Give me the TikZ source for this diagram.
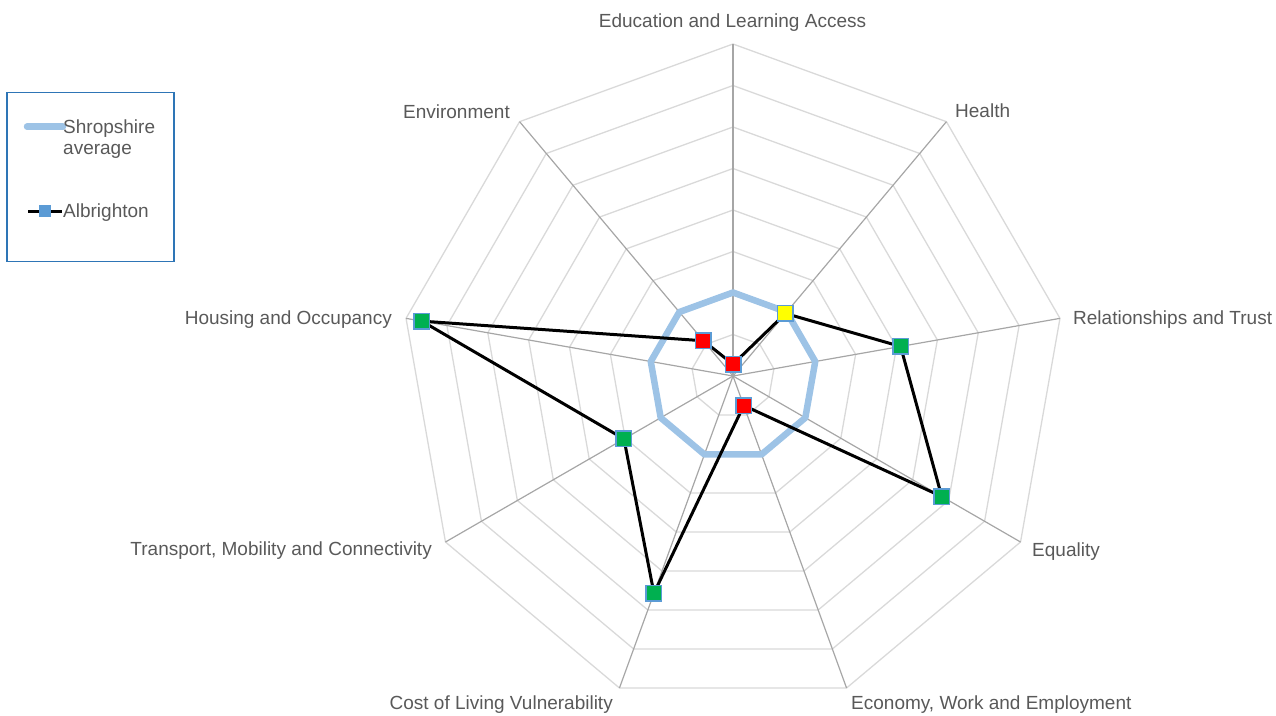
\documentclass[tikz,border=0pt]{standalone}
\usepackage{fontspec}
\setmainfont{Liberation Sans}
\definecolor{gridc}{HTML}{D9D9D9}
\definecolor{spokec}{HTML}{A6A6A6}
\definecolor{avgc}{HTML}{9DC3E6}
\definecolor{txtc}{HTML}{595959}
\definecolor{mkborder}{HTML}{5B9BD5}
\definecolor{mkgreen}{HTML}{00B050}
\definecolor{mkred}{HTML}{FF0000}
\definecolor{mkyellow}{HTML}{FFFF00}
\definecolor{legbox}{HTML}{2E75B6}
\definecolor{legmk}{HTML}{5B9BD5}
\begin{document}
\begin{tikzpicture}[x=1pt,y=1pt,
  lbl/.style={font=\fontsize{19}{22}\selectfont, text=txtc, inner sep=0pt, text height=13.6pt, text depth=0pt},
  ring/.style={draw=gridc, line width=1.3pt, line join=miter},
  spoke/.style={draw=spokec, line width=1.2pt},
  avg/.style={draw=avgc, line width=6.5pt, line join=round, line cap=round},
  albline/.style={draw=black, line width=3pt, line join=round},
  mk/.style={draw=mkborder, line width=1.5pt, minimum size=15.5pt, inner sep=0pt, rectangle},
  legframe/.style={draw=legbox, line width=1.6pt}]
\useasboundingbox (0,0) rectangle (1276,-715);
\begin{scope}[shift={(733,-376)}]
  \coordinate (c) at (0,0);
  % rings
  \foreach \k in {1,...,8} {
    \pgfmathsetmacro\rr{41.5*\k}
    \draw[ring] (90:\rr) -- (50:\rr) -- (10:\rr) -- (-30:\rr) -- (-70:\rr) -- (-110:\rr) -- (-150:\rr) -- (170:\rr) -- (130:\rr) -- cycle;
  }
  % spokes
  \foreach \a/\n in {90/1,50/2,10/3,-30/4,-70/5,-110/6,-150/7,170/8,130/9} {
    \coordinate (v\n) at (\a:332);
    \draw[spoke] (c) -- (v\n);
  }
  % Shropshire average
  \foreach \a/\n in {90/1,50/2,10/3,-30/4,-70/5,-110/6,-150/7,170/8,130/9} {
    \coordinate (s\n) at (\a:83.5);
  }
  \draw[avg] (s1) -- (s2) -- (s3) -- (s4) -- (s5) -- (s6) -- (s7) -- (s8) -- (s9) -- cycle;
  % Albrighton
  \coordinate (p1) at (90:11.7);
  \coordinate (p2) at (50:81.6);
  \coordinate (p3) at (10:170.2);
  \coordinate (p4) at (-30:241);
  \coordinate (p5) at (-70:31.4);
  \coordinate (p6) at (-110:231.2);
  \coordinate (p7) at (-150:125.9);
  \coordinate (p8) at (170:316);
  \coordinate (p9) at (130:46);
  \draw[albline] (p1) -- (p2) -- (p3) -- (p4) -- (p5) -- (p6) -- (p7) -- (p8) -- (p9) -- cycle;
  \node[mk, fill=mkred] (m1) at (p1) {};
  \node[mk, fill=mkyellow] (m2) at (p2) {};
  \node[mk, fill=mkgreen] (m3) at (p3) {};
  \node[mk, fill=mkgreen] (m4) at (p4) {};
  \node[mk, fill=mkred] (m5) at (p5) {};
  \node[mk, fill=mkgreen] (m6) at (p6) {};
  \node[mk, fill=mkgreen] (m7) at (p7) {};
  \node[mk, fill=mkgreen] (m8) at (p8) {};
  \node[mk, fill=mkred] (m9) at (p9) {};
\end{scope}
% axis labels
\node[lbl] (l1) at (732.5,-20.3) {Education and Learning Access};
\node[lbl, anchor=west] (l2) at (955,-111) {Health};
\node[lbl, anchor=west] (l3) at (1073,-318) {Relationships and Trust};
\node[lbl, anchor=west] (l4) at (1032,-550) {Equality};
\node[lbl, anchor=west] (l5) at (851,-703) {Economy, Work and Employment};
\node[lbl, anchor=east] (l6) at (613,-703) {Cost of Living Vulnerability};
\node[lbl, anchor=east] (l7) at (432,-549) {Transport, Mobility and Connectivity};
\node[lbl, anchor=east] (l8) at (392,-318) {Housing and Occupancy};
\node[lbl, anchor=east] (l9) at (510,-111.3) {Environment};
% legend
\draw[legframe] (7,-92.5) rectangle (174,-261.5);
\coordinate (la) at (27,-126.7);
\coordinate (lb) at (63,-126.7);
\draw[avg] (la) -- (lb);
\node[lbl, anchor=north west, align=left, text height=, text depth=, font=\fontsize{19}{21.6}\selectfont] (t1) at (63,-119.2) {Shropshire\\average};
\coordinate (lc) at (28,-211);
\coordinate (ld) at (62,-211);
\draw[albline] (lc) -- (ld);
\node[rectangle, fill=legmk, minimum size=12pt, inner sep=0pt] (lm) at (45,-211) {};
\node[lbl, anchor=west] (t2) at (63,-211) {Albrighton};
\end{tikzpicture}
\end{document}
